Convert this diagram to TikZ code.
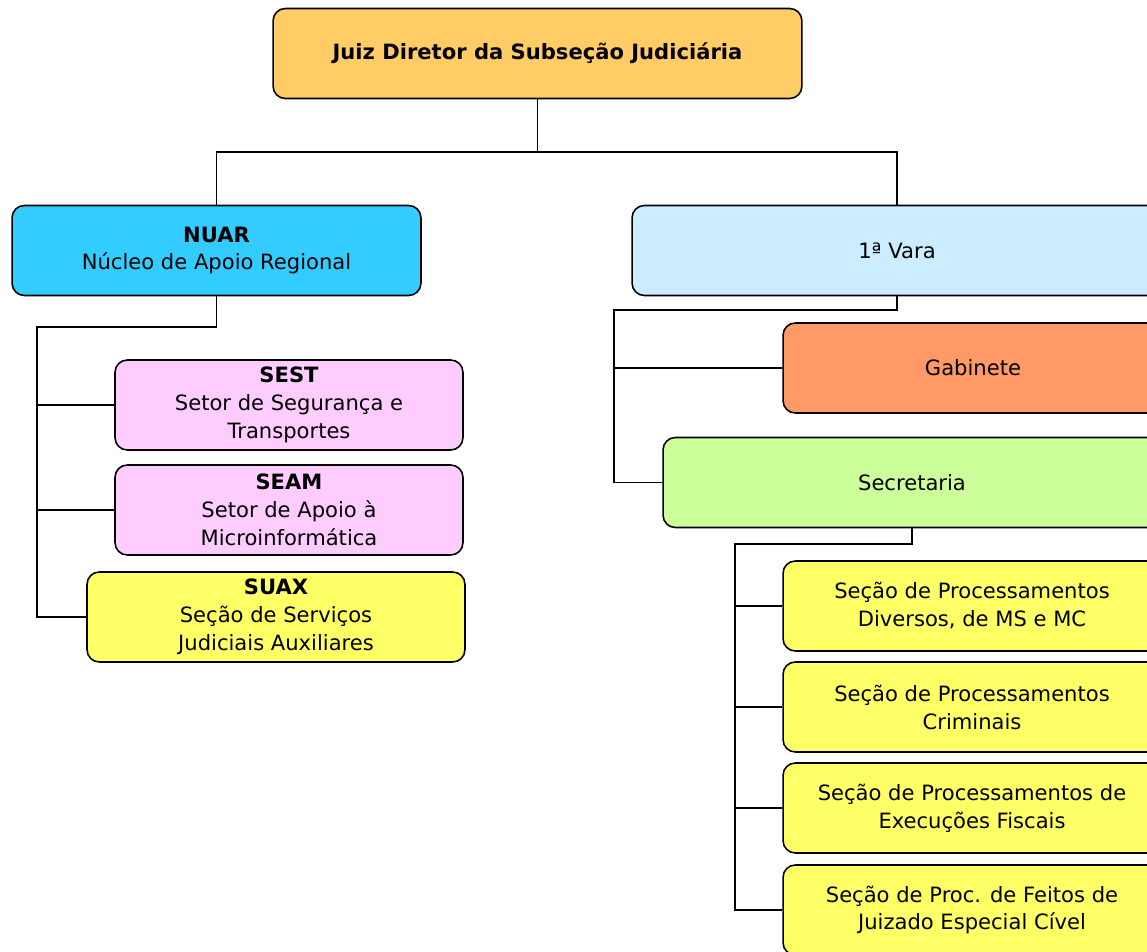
\documentclass[tikz,border=0pt]{standalone}
\usepackage{fontspec}
\setmainfont{DejaVu Sans}
\usetikzlibrary{calc}
\definecolor{TopClr}{rgb}{1,0.8,0.4}
\definecolor{NuarClr}{rgb}{0.2,0.8,1}
\definecolor{SetorClr}{rgb}{1,0.8,1}
\definecolor{SecaoClr}{rgb}{1,1,0.4}
\definecolor{VaraClr}{rgb}{0.8,0.925,1}
\definecolor{GabClr}{rgb}{1,0.6,0.4}
\definecolor{SecrClr}{rgb}{0.8,1,0.6}

\tikzset{
  orgbox/.style={draw=black,line width=0.9pt,rounded corners=7pt,align=center,
    inner sep=0pt,minimum height=1.8cm,font=\fontsize{12}{15.9}\selectfont},
  link/.style={line width=1pt,color=black}
}

\begin{document}
\begin{tikzpicture}[x=0.02cm,y=-0.02cm]
\useasboundingbox (0,0) rectangle (1147,952);
\clip (0,0) rectangle (1147,952);

\node[orgbox,fill=TopClr,minimum width=10.58cm] (juiz) at (537.5,53.5) {\textbf{Juiz Diretor da Subseção Judiciária}};

\node[orgbox,fill=NuarClr,minimum width=8.18cm] (nuar) at (216.5,250.5) {\textbf{NUAR}\\Núcleo de Apoio Regional};
\node[orgbox,fill=VaraClr,minimum width=10.6cm] (vara) at (897,250.5) {1ª Vara};

\node[orgbox,fill=SetorClr,minimum width=6.96cm] (sest) at (289,405) {\textbf{SEST}\\Setor de Segurança e\\Transportes};
\node[orgbox,fill=SetorClr,minimum width=6.96cm] (seam) at (289,510) {\textbf{SEAM}\\Setor de Apoio à\\Microinformática};
\node[orgbox,fill=SecaoClr,minimum width=7.56cm] (suax) at (276,617) {\textbf{SUAX}\\Seção de Serviços\\Judiciais Auxiliares};

\node[orgbox,fill=GabClr,minimum width=7.6cm] (gab) at (973,368) {Gabinete};
\node[orgbox,fill=SecrClr,minimum width=9.96cm] (secr) at (912,482.5) {Secretaria};

\node[orgbox,fill=SecaoClr,minimum width=7.56cm] (diversos) at (972,606) {Seção de Processamentos\\Diversos, de MS e MC};
\node[orgbox,fill=SecaoClr,minimum width=7.56cm] (criminais) at (972,707) {Seção de Processamentos\\Criminais};
\node[orgbox,fill=SecaoClr,minimum width=7.56cm] (fiscais) at (972,808) {Seção de Processamentos de\\Execuções Fiscais};
\node[orgbox,fill=SecaoClr,minimum width=7.56cm] (jec) at (972,910) {Seção de Proc. de Feitos de\\Juizado Especial Cível};

% bus lines
\coordinate (topBus) at (537.5,152);
\coordinate (nuarBus) at (37,327);
\coordinate (varaBus) at (614,310);
\coordinate (secrBus) at (735,544);

\draw[link] (juiz.south) -- (topBus);
\draw[link] (nuar.north) |- (topBus);
\draw[link] (vara.north) |- (topBus);

\draw[link] (nuar.south) |- (nuarBus) |- (suax.west);
\draw[link] (nuarBus |- sest.west) -- (sest.west);
\draw[link] (nuarBus |- seam.west) -- (seam.west);

\draw[link] (vara.south) |- (varaBus) |- (secr.west);
\draw[link] (varaBus |- gab.west) -- (gab.west);

\draw[link] (secr.south) |- (secrBus) |- (jec.west);
\draw[link] (secrBus |- diversos.west) -- (diversos.west);
\draw[link] (secrBus |- criminais.west) -- (criminais.west);
\draw[link] (secrBus |- fiscais.west) -- (fiscais.west);

\end{tikzpicture}
\end{document}
